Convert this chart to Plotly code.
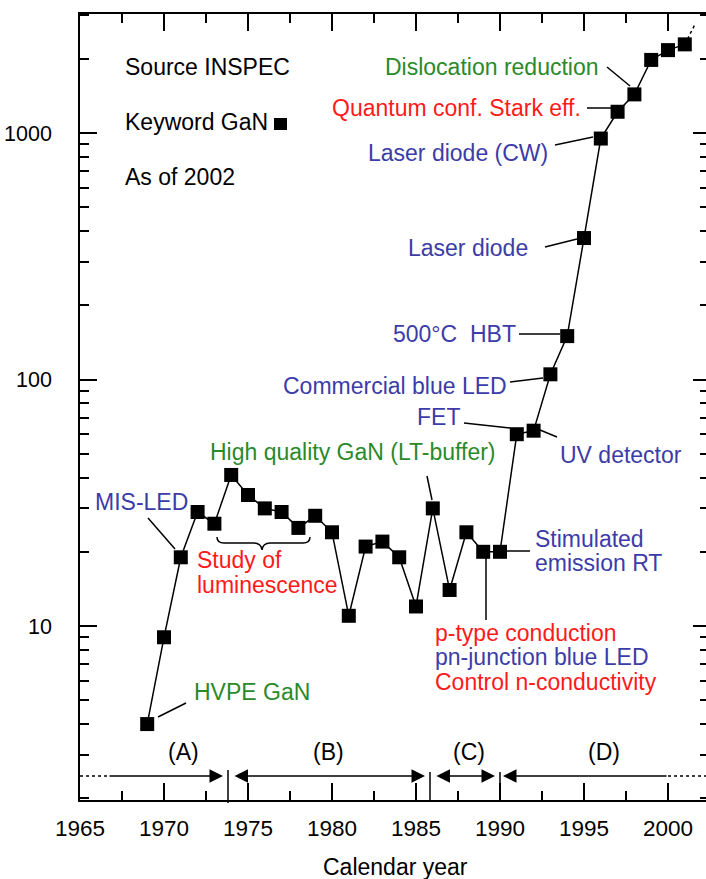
import plotly.graph_objects as go

# ---------------- data ----------------
years = list(range(1969, 2002))
papers = [4, 9, 19, 29, 26, 41, 34, 30, 29, 25, 28, 24,
          11, 21, 22, 19, 12, 30, 14, 24, 20, 20, 60, 62,
          105, 150, 375, 950, 1220, 1435, 1980, 2170, 2290]
trend_years = [2001, 2001.65]
trend_papers = [2290, 2800]

x_ticks = [1965, 1970, 1975, 1980, 1985, 1990, 1995, 2000]
y_ticks = [10, 100, 1000]
y_tick_labels = ["10", "100", "1000"]
y_minor = [2, 3, 4, 5, 6, 7, 8, 9, 20, 30, 40, 50, 60, 70, 80, 90,
           200, 300, 400, 500, 600, 700, 800, 900, 2000, 3000]

GREEN = "#2a8a2a"
BLUE = "#3c3ca8"
RED = "#ff1a1a"
FONT = "Liberation Sans, Arial, Helvetica, sans-serif"
FS = 23

# plot-area geometry (pixels) for decorations
W, H = 706, 879
L, T, R, B = 80, 14, 0, 79
PW, PH = W - L - R, H - T - B


def X(px):
    return (px - L) / PW


def Y(py):
    return (H - B - py) / PH


fig = go.Figure()

fig.add_trace(go.Scatter(
    x=years, y=papers, mode="lines+markers",
    line=dict(color="black", width=1.5),
    marker=dict(symbol="square", size=14, color="black"),
    showlegend=False, hoverinfo="x+y"))

fig.add_trace(go.Scatter(
    x=trend_years, y=trend_papers, mode="lines",
    line=dict(color="black", width=1.5, dash="dot"),
    showlegend=False, hoverinfo="skip"))

# invisible trace to activate the right-hand tick axis
fig.add_trace(go.Scatter(x=[years[0]], y=[papers[0]], yaxis="y2",
                         mode="markers", marker=dict(opacity=0),
                         showlegend=False, hoverinfo="skip"))

annotations = []
shapes = []


def text(s, px, py, anchor="left", color="black"):
    annotations.append(dict(text=s, x=X(px), y=Y(py), xref="paper", yref="paper",
                            xanchor=anchor, yanchor="middle", showarrow=False,
                            font=dict(family=FONT, size=FS, color=color)))


def seg(x0, y0, x1, y1, dash="solid"):
    shapes.append(dict(type="line", xref="paper", yref="paper",
                       x0=X(x0), y0=Y(y0), x1=X(x1), y1=Y(y1),
                       line=dict(color="black", width=1.5, dash=dash)))


text("Source INSPEC", 123, 67)
text("Keyword GaN", 123, 122)
text("As of 2002", 123, 177)
shapes.append(dict(type="rect", xref="paper", yref="paper",
                   x0=X(274), x1=X(287), y0=Y(130), y1=Y(118),
                   fillcolor="black", line=dict(width=0)))

text("Dislocation reduction", 383, 67, "left", GREEN)
seg(607, 67, 630, 86)
text("Quantum conf. Stark eff.", 583, 108, "right", RED)
seg(587, 108, 611, 108)
text("Laser diode (CW)", 550, 153, "right", BLUE)
seg(555, 145, 593, 137)
text("Laser diode", 530, 248, "right", BLUE)
seg(545, 247, 577, 239)
text("500°C\u00a0 HBT", 518, 334, "right", BLUE)
seg(519, 334, 560, 334)
text("Commercial blue LED", 509, 386, "right", BLUE)
seg(510, 382, 543, 378)
text("FET", 462, 417, "right", BLUE)
seg(464, 423, 510, 428)
text("UV detector", 558, 455, "left", BLUE)
seg(540, 430, 557, 437)
text("High quality GaN (LT-buffer)", 208, 452, "left", GREEN)
seg(427, 476, 432, 500)
text("Stimulated", 533, 539, "left", BLUE)
text("emission RT", 533, 563, "left", BLUE)
seg(507, 551, 530, 551)
text("p-type conduction", 433, 633, "left", RED)
text("pn-junction blue LED", 433, 657, "left", BLUE)
text("Control n-conductivity", 433, 682, "left", RED)
seg(486, 556, 486, 620)
text("MIS-LED", 93, 502, "left", BLUE)
seg(148, 518, 175, 549)
text("Study of", 195, 560, "left", RED)
text("luminescence", 195, 585, "left", RED)
text("HVPE GaN", 192, 692, "left", GREEN)
seg(158, 717, 186, 703)

# curly brace under 1973-1978
pts = lambda a, b: f"{X(a):.5f},{Y(b):.5f}"
brace = (f"M{pts(217,537)} Q{pts(217,543)} {pts(224,543)} L{pts(254,543)} "
         f"Q{pts(261,543)} {pts(262,550)} Q{pts(263,543)} {pts(270,543)} "
         f"L{pts(303,543)} Q{pts(310,543)} {pts(310,537)}")
shapes.append(dict(type="path", xref="paper", yref="paper", path=brace,
                   line=dict(color="black", width=1.5)))

# period labels and arrows
for lab, cx in [("(A)", 183), ("(B)", 328), ("(C)", 469), ("(D)", 604)]:
    text(lab, cx, 752, "center")

AY = 776


def arrow(x_from, x_to, both=False):
    a = dict(x=X(x_to), y=Y(AY), xref="paper", yref="paper", text="",
             showarrow=True, ax=x_from - x_to, ay=0, axref="pixel", ayref="pixel",
             arrowhead=2, arrowsize=1.8, arrowwidth=1.5, arrowcolor="black",
             standoff=0, startstandoff=0)
    if both:
        a.update(arrowside="end+start", startarrowhead=2, startarrowsize=1.8)
    annotations.append(a)


seg(80, AY, 108, AY, "dot")
arrow(108, 223)
arrow(233, 425, both=True)
arrow(435, 495, both=True)
arrow(668, 503)
seg(668, AY, 706, AY, "dot")
seg(228, 770, 228, 803)
seg(430, 772, 430, 800)
seg(500, 772, 500, 800)

text("Calendar year", 395, 867, "center")

fig.update_layout(
    width=W, height=H,
    margin=dict(l=L, r=R, t=T, b=B),
    paper_bgcolor="white", plot_bgcolor="white",
    font=dict(family=FONT, size=FS, color="black"),
    annotations=annotations, shapes=shapes,
    showlegend=False,
    xaxis=dict(range=[1965, 1965 + PW / 16.8], tickvals=x_ticks,
               showline=True, linecolor="black", linewidth=1.5, mirror="ticks",
               ticks="inside", ticklen=17, tickwidth=1.5, tickcolor="black",
               minor=dict(tickvals=[1967.5 + 5 * i for i in range(8)],
                          ticks="inside", ticklen=9, tickwidth=1.5, tickcolor="black"),
               showgrid=False, zeroline=False, ticklabelstandoff=7,
               tickfont=dict(size=22.5)),
    yaxis=dict(type="log", range=[0.294, 3.483], tickvals=y_ticks, ticktext=y_tick_labels,
               showline=True, linecolor="black", linewidth=1.5,
               ticks="inside", ticklen=17, tickwidth=1.5, tickcolor="black",
               minor=dict(tickvals=y_minor, ticks="inside", ticklen=9,
                          tickwidth=1.5, tickcolor="black"),
               showgrid=False, zeroline=False, ticklabelstandoff=22,
               tickfont=dict(size=21.5)),
    yaxis2=dict(type="log", range=[0.294, 3.483], overlaying="y", side="right",
                tickvals=y_ticks, showticklabels=False, showline=False,
                ticks="inside", ticklen=13, tickwidth=1.5, tickcolor="black",
                minor=dict(tickvals=y_minor, ticks="inside", ticklen=6,
                           tickwidth=1.5, tickcolor="black"),
                showgrid=False, zeroline=False),
)

fig.write_html("out.html",
               config={"displayModeBar": False},
               post_script="document.body.style.margin='0px';"
                           "document.body.style.overflow='hidden';")
